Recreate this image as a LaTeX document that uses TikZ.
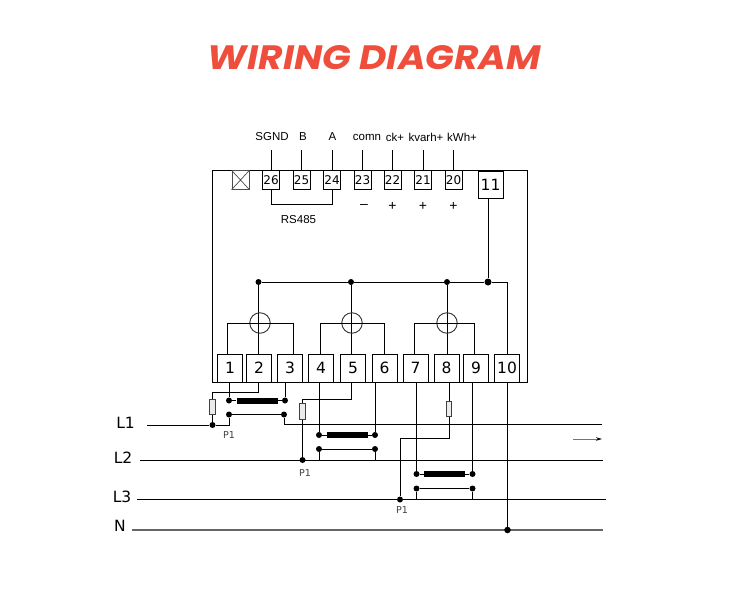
\documentclass[tikz,border=0pt]{standalone}
\usepackage{fontspec}
\usepackage{graphicx}
\setmainfont{DejaVu Sans}
\newfontfamily\labfont{Liberation Sans}
\newfontfamily\titlefont{Poppins}
\usetikzlibrary{arrows.meta}
\definecolor{titlered}{HTML}{F04E3C}
\definecolor{ink}{HTML}{000000}
\tikzset{
  wire/.style={draw=ink,line width=1pt},
  heavy/.style={draw=black!60,line width=1.9pt},
  tsmall/.style={draw=ink,line width=0.9pt,fill=white,inner sep=0pt,minimum width=17pt,minimum height=18.5pt,font=\fontsize{12}{13}\selectfont},
  tbig/.style={draw=ink,line width=0.9pt,fill=white,inner sep=0pt,minimum width=25pt,minimum height=28pt,font=\fontsize{15.5}{16}\selectfont},
  dot/.style={circle,fill=black,inner sep=0pt,minimum size=6pt},
  bigdot/.style={circle,fill=black,inner sep=0pt,minimum size=7pt},
  fuse/.style={draw=black!75,fill=black!8,line width=0.8pt,inner sep=0pt,minimum width=5.5pt,minimum height=15.5pt},
  bar/.style={fill=black,inner sep=0pt,minimum width=41pt,minimum height=6pt},
  meter/.style={circle,draw=black!80,line width=0.9pt,inner sep=0pt,minimum size=20.5pt},
  toplabel/.style={font=\labfont\fontsize{11.5}{12}\selectfont,text=black,inner sep=0pt},
  signlabel/.style={font=\labfont\fontsize{14}{14}\selectfont,text=black,inner sep=0pt},
  plabel/.style={font=\fontsize{9.5}{10}\selectfont,text=black!75,inner sep=0pt},
  phase/.style={font=\fontsize{15.5}{16}\selectfont,text=black,inner sep=0pt},
}
\begin{document}
\begin{tikzpicture}[x=1pt,y=-1pt]
\useasboundingbox (0,0) rectangle (750,616);
\fill[white] (0,0) rectangle (750,616);

% title
\node[text=titlered,inner sep=0pt] (title) at (374.5,58)
  {\resizebox{333pt}{24pt}{\titlefont\bfseries\itshape WIRING DIAGRAM}};

% housing
\node[draw=ink,line width=1pt,inner sep=0pt,minimum width=315pt,minimum height=212pt] (housing) at (369.5,276) {};

% top terminals
\node[draw=black!70,line width=0.8pt,inner sep=0pt,minimum width=17pt,minimum height=18.5pt] (xbox) at (240.5,180) {};
\draw[black!70,line width=0.7pt] (xbox.north west) -- (xbox.south east) (xbox.north east) -- (xbox.south west);
\node[tsmall] (t26) at (271,180) {26};
\node[tsmall] (t25) at (301.5,180) {25};
\node[tsmall] (t24) at (332,180) {24};
\node[tsmall] (t23) at (362.5,180) {23};
\node[tsmall] (t22) at (392.5,180) {22};
\node[tsmall] (t21) at (423,180) {21};
\node[tsmall] (t20) at (453.5,180) {20};
\node[tbig,minimum width=25pt,minimum height=27pt] (t11) at (490.5,184.5) {11};

% top leads and labels
\node[toplabel] (lSGND) at (272,137) {SGND};
\node[toplabel] (lB) at (303,137) {B};
\node[toplabel] (lA) at (332.5,137) {A};
\node[toplabel] (lcomn) at (367,137) {comn};
\node[toplabel] (lck) at (395,137) {ck+};
\node[toplabel] (lkvarh) at (426,137) {kvarh+};
\node[toplabel] (lkWh) at (462,137) {kWh+};
\foreach \n/\xx in {26/271,25/301.5,24/332,23/362.5,22/392.5,21/423,20/453.5}{
  \coordinate (e\n) at (\xx,150);
  \draw[wire] (e\n) -- (t\n.north);
}
\draw[wire] (t26.south) -- ++(0,15) -| (t24.south);
\node[toplabel] (lrs) at (298.5,219.5) {RS485};
\node[signlabel] (m23) at (364,206.5) {–};
\node[signlabel] (m22) at (392.5,206) {+};
\node[signlabel] (m21) at (423,206) {+};
\node[signlabel] (m20) at (453.5,206) {+};

% lower terminals
\node[tbig] (t1) at (230,368) {1};
\node[tbig] (t2) at (259,368) {2};
\node[tbig] (t3) at (290,368) {3};
\node[tbig] (t4) at (321,368) {4};
\node[tbig] (t5) at (353,368) {5};
\node[tbig] (t6) at (384.5,368) {6};
\node[tbig] (t7) at (415.5,368) {7};
\node[tbig] (t8) at (446.5,368) {8};
\node[tbig] (t9) at (476,368) {9};
\node[tbig] (t10) at (507,368) {10};

% common bus
\node[dot] (b1) at (258.5,282) {};
\node[dot] (b2) at (351,282) {};
\node[dot] (b3) at (447,282) {};
\node[bigdot] (b4) at (488,282) {};
\coordinate (bc) at (507,282);
\draw[wire] (b1) -- (b2) -- (b3) -- (b4) -- (bc) -- (t10.north);
\draw[wire] (t11.south -| b4) -- (b4);
\draw[wire] (b1) -- (b1 |- t2.north);
\draw[wire] (b2) -- (b2 |- t5.north);
\draw[wire] (b3) -- (b3 |- t8.north);

% meters
\node[meter] (m1) at (260,323) {};
\node[meter] (m2) at (352,323) {};
\node[meter] (m3) at (447,323) {};
\coordinate (h1) at (227,323); \coordinate (h3) at (293,323);
\coordinate (h4) at (320,323); \coordinate (h6) at (384,323);
\coordinate (h7) at (414,323); \coordinate (h9) at (474,323);
\draw[wire] (h1 |- t1.north) -- (h1) -- (h3) -- (h3 |- t3.north);
\draw[wire] (h4 |- t4.north) -- (h4) -- (h6) -- (h6 |- t6.north);
\draw[wire] (h7 |- t7.north) -- (h7) -- (h9) -- (h9 |- t9.north);

% supply lines
\coordinate (sL1) at (147,425);
\coordinate (eL1) at (602,424.5);
\coordinate (sL2) at (140,460);
\coordinate (eL2) at (603,460);
\coordinate (sL3) at (137,499.5);
\coordinate (eL3) at (606,499.5);
\coordinate (sN) at (132,530);
\coordinate (eN) at (603,530);
\node[phase] (lL1) at (125.5,423) {L1};
\node[phase] (lL2) at (123,458) {L2};
\node[phase] (lL3) at (122,497) {L3};
\node[phase] (lN) at (120,526) {N};
\draw[wire] (sL2) -- (eL2);
\draw[wire] (sL3) -- (eL3);
\draw[heavy] (sN) -- (eN);

% phase 1
\node[dot] (df1) at (212.5,425) {};
\node[dot] (hi1) at (229,400.5) {};
\node[dot] (hi3) at (285,400.5) {};
\node[dot] (lo1) at (229,414.5) {};
\node[dot] (lo3) at (284,414.5) {};
\node[bar] (bar1) at (257,400.5) {};
\node[fuse] (f1) at (212.5,407) {};
\coordinate (c2) at (258,392);
\draw[wire] (c2 |- t2.south) -- (c2) -| (f1.north);
\draw[wire] (f1.south) -- (df1);
\draw[wire] (sL1) -- (df1) -| (lo1);
\draw[wire] (lo1) -- (lo3) |- (eL1);
\draw[wire] (hi1 |- t1.south) -- (hi1) -- (bar1) -- (hi3) -- (hi3 |- t3.south);
\node[plabel] (p1a) at (229,435.5) {P1};

% phase 2
\node[dot] (df2) at (302.5,460) {};
\node[dot] (hi4) at (319,435) {};
\node[dot] (hi6) at (375,435) {};
\node[dot] (lo4) at (319,449) {};
\node[dot] (lo6) at (375,449) {};
\node[bar] (bar2) at (347.5,435) {};
\node[fuse] (f2) at (302.5,411.5) {};
\coordinate (c5) at (351,399);
\draw[wire] (c5 |- t5.south) -- (c5) -| (f2.north);
\draw[wire] (f2.south) -- (df2);
\draw[wire] (hi4 |- t4.south) -- (hi4) -- (bar2) -- (hi6) -- (hi6 |- t6.south);
\draw[wire] (lo4 |- sL2) -- (lo4) -- (lo6) -- (lo6 |- sL2);
\node[plabel] (p1b) at (305,473) {P1};

% phase 3
\node[dot] (df3) at (400,499.5) {};
\node[dot] (hi7) at (416.5,474) {};
\node[dot] (hi9) at (472.5,474) {};
\node[dot] (lo7) at (416.5,488.5) {};
\node[dot] (lo9) at (472.5,488.5) {};
\node[bar] (bar3) at (444.5,474) {};
\node[fuse] (f3) at (449,409) {};
\coordinate (c8) at (449,438);
\draw[wire] (c8 |- t8.south) -- (f3.north);
\draw[wire] (f3.south) -- (c8) -| (df3);
\draw[wire] (hi7 |- t7.south) -- (hi7) -- (bar3) -- (hi9) -- (hi9 |- t9.south);
\draw[wire] (lo7 |- sL3) -- (lo7) -- (lo9) -- (lo9 |- sL3);
\node[plabel] (p1c) at (402,510) {P1};

% neutral
\node[dot,minimum size=6.5pt] (dn) at (507.5,530) {};
\draw[wire] (dn |- t10.south) -- (dn);

% direction arrow
\coordinate (a1) at (573,439);
\coordinate (a2) at (602,439);
\draw[black!55,line width=1pt,-{Stealth[black,length=6pt,width=3.5pt]}] (a1) -- (a2);
\end{tikzpicture}
\end{document}
